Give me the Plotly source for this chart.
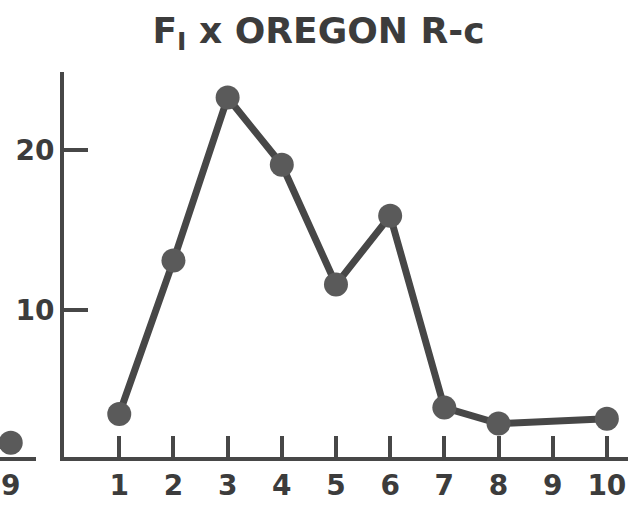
import plotly.graph_objects as go

# Main panel: F1 x OREGON R-c
categories = [1, 2, 3, 4, 5, 6, 7, 8, 10]
values = [3.5, 13.1, 23.3, 19.1, 11.6, 15.9, 3.9, 2.9, 3.2]
x_ticks = [1, 2, 3, 4, 5, 6, 7, 8, 9, 10]
y_ticks = [10, 20]

# Fragment of the neighbouring panel, visible at the left edge
neighbor_categories = [9]
neighbor_values = [1.7]

ink = "#474747"
text_ink = "#3c3c3c"
font_family = "DejaVu Sans"

W, H = 637, 509

fig = go.Figure()
fig.add_trace(go.Scatter(
    x=categories, y=values, mode="lines+markers",
    line=dict(color=ink, width=7),
    marker=dict(size=24, color="#5a5a5a", line=dict(width=0)),
    cliponaxis=False, showlegend=False, xaxis="x", yaxis="y",
))
fig.add_trace(go.Scatter(
    x=neighbor_categories, y=neighbor_values, mode="markers",
    marker=dict(size=24, color="#5a5a5a", line=dict(width=0)),
    cliponaxis=False, showlegend=False, xaxis="x2", yaxis="y",
))

tick_font = dict(size=28, color=text_ink, family=font_family, weight="bold")

fig.update_layout(
    width=W, height=H,
    margin=dict(l=0, r=0, t=72, b=52),
    paper_bgcolor="white", plot_bgcolor="white",
    font=dict(family=font_family, color=text_ink, size=28),
    title=dict(
        text="F<sub>I</sub> x OREGON R-c",
        x=0.5, xanchor="center", xref="paper",
        y=0.966, yanchor="top", yref="container",
        font=dict(size=36, family=font_family, color=text_ink, weight="bold"),
    ),
    xaxis=dict(
        domain=[64 / W, 628 / W], range=[-0.02, 10.39],
        tickmode="array", tickvals=x_ticks, ticktext=[str(t) for t in x_ticks],
        ticks="inside", ticklen=21, tickwidth=4, tickcolor=ink,
        showline=True, linecolor=ink, linewidth=4,
        showgrid=False, zeroline=False,
        tickfont=tick_font,
        anchor="y",
    ),
    xaxis2=dict(
        domain=[0, 36 / W], range=[8.8, 9.47],
        tickmode="array", tickvals=[9], ticktext=["9"],
        ticks="", showline=True, linecolor=ink, linewidth=4,
        showgrid=False, zeroline=False,
        tickfont=tick_font,
        anchor="y",
    ),
    yaxis=dict(
        range=[0.81, 24.9],
        tickmode="array", tickvals=y_ticks, ticktext=[str(t) for t in y_ticks],
        ticks="inside", ticklen=24, tickwidth=4, tickcolor=ink,
        showline=True, linecolor=ink, linewidth=4,
        showgrid=False, zeroline=False,
        tickfont=tick_font,
        anchor="x",
    ),
)

fig.write_html("out.html")
